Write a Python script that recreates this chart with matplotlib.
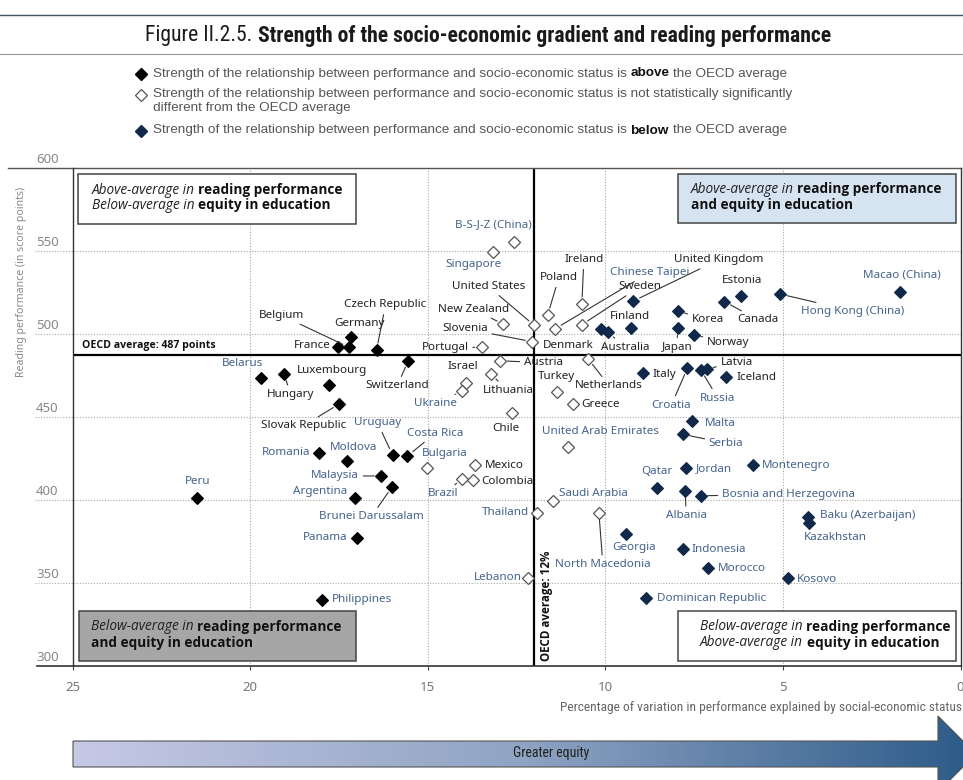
import matplotlib
matplotlib.use("Agg")
import matplotlib.pyplot as plt
import matplotlib.transforms as mtransforms
from matplotlib import font_manager
from matplotlib.patches import Rectangle, Polygon
from matplotlib.colors import LinearSegmentedColormap
import numpy as np

# ---- fonts
entries = font_manager.fontManager.ttflist
names = {f.name for f in entries}


def pick(*cands):
    for c in cands:
        if c in names:
            return c
    return "DejaVu Sans"


def weight_of(f):
    w = f.weight
    if isinstance(w, str):
        w = font_manager.weight_dict.get(w, 400)
    return w


def pick_full(*cands):
    # a family that really has bold and italic faces
    for c in cands:
        fs = [f for f in entries if f.name == c]
        if any(weight_of(f) >= 600 for f in fs) and any(f.style == "italic" for f in fs):
            return c
    return "DejaVu Sans"


NARROW = pick("Liberation Sans Narrow", "Roboto Condensed", "Liberation Sans")
SANS = pick("Noto Sans", "Open Sans", "DejaVu Sans")
RICH = pick_full("Open Sans", "Lato", "Noto Sans", "Roboto", "Liberation Sans")
LEGF = pick_full("Liberation Sans", "Roboto", "Lato", "Open Sans")

# ---- data (x: % of variance explained by ESCS, y: reading score)
countries = [
    "Peru", "Belarus", "Hungary", "Luxembourg", "Slovak Republic", "France", "Belgium",
    "Germany", "Czech Republic", "Switzerland", "Romania", "Moldova", "Uruguay", "Costa Rica",
    "Malaysia", "Brunei Darussalam", "Argentina", "Panama", "Philippines",
    "B-S-J-Z (China)", "Singapore", "United States", "Poland", "Ireland", "Sweden",
    "Chinese Taipei", "New Zealand", "Slovenia", "Portugal", "Austria", "Netherlands",
    "Israel", "Ukraine", "Lithuania", "Turkey", "Greece", "Chile", "United Arab Emirates",
    "Bulgaria", "Brazil", "Mexico", "Colombia", "Thailand", "Saudi Arabia",
    "North Macedonia", "Lebanon",
    "United Kingdom", "Finland", "Denmark", "Australia", "Korea", "Japan", "Norway",
    "Canada", "Estonia", "Hong Kong (China)", "Macao (China)", "Italy", "Croatia",
    "Russia", "Latvia", "Iceland", "Malta", "Serbia", "Jordan", "Montenegro", "Qatar",
    "Albania", "Bosnia and Herzegovina", "Baku (Azerbaijan)", "Kazakhstan", "Georgia",
    "Indonesia", "Morocco", "Kosovo", "Dominican Republic",
]
pct_variance = [
    21.5, 19.7, 19.05, 17.77, 17.49, 17.52, 17.21,
    17.17, 16.44, 15.55, 18.06, 17.28, 15.99, 15.57,
    16.31, 16.0, 17.06, 17.0, 17.98,
    12.56, 13.15, 12.0, 11.62, 10.66, 10.66,
    11.41, 12.87, 12.06, 13.48, 12.96, 10.48,
    13.92, 14.03, 13.22, 11.37, 10.9, 12.64, 11.04,
    15.03, 14.03, 13.67, 13.73, 11.91, 11.48,
    10.18, 12.19,
    9.21, 9.29, 10.13, 9.92, 7.96, 7.96, 7.50,
    6.65, 6.19, 5.08, 1.70, 8.93, 7.69,
    7.31, 7.15, 6.61, 7.56, 7.82, 7.73, 5.83, 8.55,
    7.75, 7.31, 4.28, 4.26, 9.42,
    7.82, 7.10, 4.85, 8.85,
]
reading = [
    401, 473.5, 476, 469, 457.7, 492.2, 491.8,
    498.2, 490.2, 483.6, 428, 423.5, 427, 426.3,
    414.3, 407.8, 400.8, 377.1, 339.6,
    555.2, 549.2, 505, 511.4, 518, 505.4,
    503, 505.7, 495.2, 491.8, 483.7, 484.8,
    470.5, 465.3, 475.5, 464.9, 457.6, 452.4, 431.6,
    419.3, 412.5, 420.7, 411.9, 392.2, 399.2,
    392.2, 352.6,
    519.7, 503.3, 502.8, 500.8, 513.7, 503.3, 499.2,
    519.3, 522.9, 523.9, 525.3, 476.1, 479.2,
    478.1, 478.7, 473.7, 447.6, 439.4, 418.9, 420.9, 406.9,
    405.4, 402.4, 389.4, 386.1, 379.2,
    370.3, 358.7, 352.6, 341,
]
# 0 = above OECD average, 1 = not significantly different, 2 = below
strength = [0] * 19 + [1] * 27 + [2] * 30
partners = {
    "Peru", "Belarus", "Romania", "Moldova", "Uruguay", "Costa Rica", "Malaysia",
    "Brunei Darussalam", "Argentina", "Panama", "Philippines", "B-S-J-Z (China)",
    "Singapore", "Chinese Taipei", "Ukraine", "United Arab Emirates", "Bulgaria", "Brazil",
    "Thailand", "Saudi Arabia", "North Macedonia", "Lebanon", "Hong Kong (China)",
    "Macao (China)", "Croatia", "Russia", "Malta", "Serbia", "Jordan", "Montenegro",
    "Qatar", "Albania", "Bosnia and Herzegovina", "Baku (Azerbaijan)", "Kazakhstan",
    "Georgia", "Indonesia", "Morocco", "Kosovo", "Dominican Republic",
}
oecd_read = 487
oecd_pct = 12
x_ticks = [25, 20, 15, 10, 5, 0]
y_ticks = [600, 550, 500, 450, 400, 350, 300]

# label placement: offset in pixels (dx, dy), alignment, leader line
label_pos = {
    "Peru": (1, 17, "center", False), "Belarus": (-18, 14, "center", False),
    "Hungary": (7, -21, "center", True), "Luxembourg": (3, 15, "center", False),
    "Slovak Republic": (-36, -22, "center", True), "France": (-8, 1, "right", False),
    "Belgium": (-68, 32, "center", True), "Germany": (9, 13, "center", False),
    "Czech Republic": (9, 45, "center", True), "Switzerland": (-11, -25, "center", True),
    "Romania": (-9, 1, "right", False), "Moldova": (7, 13, "center", False),
    "Uruguay": (-15, 32, "center", True), "Costa Rica": (28, 23, "center", True),
    "Malaysia": (-46, 0, "center", True), "Brunei Darussalam": (-21, -30, "center", True),
    "Argentina": (-7, 7, "right", False), "Panama": (-9, 0, "right", False),
    "Philippines": (10, 0, "left", False),
    "B-S-J-Z (China)": (-21, 17, "center", False), "Singapore": (-20, -12, "center", False),
    "United States": (-46, 39, "center", True), "Poland": (11, 37, "center", True),
    "Ireland": (2, 44, "center", True), "Sweden": (58, 38, "center", True),
    "Chinese Taipei": (94, 56, "center", True), "New Zealand": (-30, 15, "center", True),
    "Slovenia": (-67, 13, "center", True), "Portugal": (-13, 0, "right", True),
    "Austria": (43, -2, "center", True), "Netherlands": (21, -27, "center", True),
    "Israel": (-3, 16, "center", False), "Ukraine": (-27, -12, "center", True),
    "Lithuania": (17, -16, "center", True), "Turkey": (0, 15, "center", False),
    "Greece": (8, 0, "left", False), "Chile": (-6, -16, "center", False),
    "United Arab Emirates": (32, 16, "center", False), "Bulgaria": (18, 14, "center", False),
    "Brazil": (-19, -15, "center", True), "Mexico": (10, 0, "left", False),
    "Colombia": (8, -2, "left", False), "Thailand": (-8, 0, "right", False),
    "Saudi Arabia": (6, 8, "left", False), "North Macedonia": (4, -52, "center", True),
    "Lebanon": (-6, 1, "right", False),
    "United Kingdom": (85, 41, "center", True), "Finland": (-1, 12, "center", False),
    "Denmark": (-32, -16, "center", False), "Australia": (17, -15, "center", True),
    "Korea": (30, -9, "center", True), "Japan": (-1, -19, "center", True),
    "Norway": (34, -7, "center", True), "Canada": (34, -18, "center", True),
    "Estonia": (1, 15, "center", False), "Hong Kong (China)": (21, -17, "left", True),
    "Macao (China)": (2, 17, "center", False), "Italy": (9, -1, "left", False),
    "Croatia": (-16, -37, "center", True), "Russia": (17, -28, "center", True),
    "Latvia": (30, 7, "center", True), "Iceland": (11, 0, "left", False),
    "Malta": (13, -3, "left", False), "Serbia": (26, -9, "left", True),
    "Jordan": (10, 0, "left", False), "Montenegro": (8, 0, "left", False),
    "Qatar": (0, 17, "center", False), "Albania": (1, -25, "center", True),
    "Bosnia and Herzegovina": (21, 1, "left", True), "Baku (Azerbaijan)": (12, 2, "left", False),
    "Kazakhstan": (26, -15, "center", False), "Georgia": (8, -13, "center", False),
    "Indonesia": (9, 0, "left", False), "Morocco": (10, 0, "left", False),
    "Kosovo": (9, -1, "left", False), "Dominican Republic": (11, -1, "left", False),
}

NAVY = "#10294a"
BLUE_TXT = "#44638c"
GRID = "#aaaaaa"

fig = plt.figure(figsize=(9.63, 7.8), dpi=100)
ax = fig.add_axes([72.5 / 963, 1 - 665.7 / 780, 888 / 963, 498 / 780])
ax.set_xlim(25, 0)
ax.set_ylim(300, 600)
for s in ax.spines.values():
    s.set_visible(False)
blend = mtransforms.blended_transform_factory(ax.transAxes, ax.transData)

# grid
for v in y_ticks[1:-1]:
    ax.plot([-0.042, 1], [v, v], transform=blend, color=GRID, lw=0.8,
            ls=(0, (1, 1.5)), clip_on=False, zorder=0.5)
for v in x_ticks[1:-1]:
    ax.axvline(v, color=GRID, lw=0.8, ls=(0, (1, 1.5)), zorder=0.5)
for v in y_ticks:
    ax.text(-0.041, v + 5, str(v), transform=blend, ha="left", va="center",
            fontsize=9.5, color="#888888", family=SANS)
ax.plot([-0.0726, 1], [1, 1], transform=ax.transAxes, color="#555555", lw=1, clip_on=False)
ax.plot([-0.04, 1], [0, 0], transform=ax.transAxes, color="#333333", lw=1.2, clip_on=False)
ax.plot([0, 0], [0, 1], transform=ax.transAxes, color="#333333", lw=1, clip_on=False)
ax.plot([1, 1], [0, 1], transform=ax.transAxes, color="#333333", lw=1, clip_on=False)

ax.set_yticks([])
ax.set_xticks(x_ticks)
ax.set_xticklabels([str(t) for t in x_ticks], family=SANS)
ax.tick_params(axis="x", direction="out", length=3, width=0.8, color="#444444",
               labelcolor="#777777", labelsize=9.5, pad=8)

# OECD averages
ax.axhline(oecd_read, color="black", lw=1.6, zorder=1)
ax.axvline(oecd_pct, color="black", lw=1.6, zorder=1)
ax.text(0.0104, oecd_read + 5.8, f"OECD average: {oecd_read} points", transform=blend,
        ha="left", va="center", fontsize=7.6, fontweight="bold", family=RICH, color="#111111")
ax.text(oecd_pct - 0.15, 303, f"OECD average: {oecd_pct}%", rotation=90, ha="left",
        va="bottom", fontsize=8.4, fontweight="bold", family=RICH, color="#111111")

# markers
x = np.array(pct_variance)
y = np.array(reading)
g = np.array(strength)
styles = {
    0: dict(mfc="black", mec="black", mew=0.8),
    1: dict(mfc="white", mec="#555555", mew=0.9),
    2: dict(mfc=NAVY, mec=NAVY, mew=0.8),
}
for k, st in styles.items():
    m = g == k
    ax.plot(x[m], y[m], ls="none", marker="D", ms=6.6, zorder=4, **st)

for name, xv, yv in zip(countries, pct_variance, reading):
    dx, dy, ha, leader = label_pos[name]
    col = BLUE_TXT if name in partners else "#222222"
    props = None
    if leader:
        props = dict(arrowstyle="-", color="#333333", lw=0.8, shrinkA=1, shrinkB=5)
    ax.annotate(name, (xv, yv), xytext=(dx, dy), textcoords="offset pixels", ha=ha,
                va="center", fontsize=8.4, color=col, family=SANS, arrowprops=props,
                zorder=5)

# ---- overlay in pixel coordinates for decorations
ov = fig.add_axes([0, 0, 1, 1], zorder=5)
ov.set_xlim(0, 963)
ov.set_ylim(780, 0)
ov.axis("off")
ov.patch.set_alpha(0)
renderer = fig.canvas.get_renderer()


def rich(x0, y0, parts, size, family, color="#222222", fit=None):
    def draw(sz):
        arts, cx = [], x0
        for i, (s, wt, st, col) in enumerate(parts):
            t = ov.text(cx, y0, s, fontsize=sz, fontweight=wt, fontstyle=st,
                        color=col or color, family=family, ha="left", va="center", zorder=7)
            arts.append(t)
            cx += t.get_window_extent(renderer).width
            if i < len(parts) - 1:
                cx += sz * 0.27 * 100 / 72
        return arts, cx - x0
    arts, w = draw(size)
    if fit:
        for a in arts:
            a.remove()
        size = size * fit / w
        draw(size)
    return size


# title
ov.plot([0, 963], [15, 15], color="#3d5566", lw=1)
ov.plot([0, 963], [54, 54], color="#999999", lw=0.8)
rich(145, 36, [("Figure II.2.5.", "normal", "normal", None),
               ("Strength of the socio-economic gradient and reading performance", "bold", "normal", None)],
     14, NARROW, color="#1a1a1a", fit=688)

# legend
leg_txt = "Strength of the relationship between performance and socio-economic status is"
sz = 9.7
rich(153, 73.5, [(leg_txt, "normal", "normal", None), ("above", "bold", "normal", "#111111"),
                 ("the OECD average", "normal", "normal", None)], sz, LEGF, color="#555555")
rich(153, 94.5, [(leg_txt + " not statistically significantly", "normal", "normal", None)],
     sz, LEGF, color="#555555")
rich(153, 108.5, [("different from the OECD average", "normal", "normal", None)],
     sz, LEGF, color="#555555")
rich(153, 130.5, [(leg_txt, "normal", "normal", None), ("below", "bold", "normal", "#111111"),
                  ("the OECD average", "normal", "normal", None)], sz, LEGF, color="#555555")
ov.plot([141], [73.5], marker="D", ms=6, color="black", ls="none")
ov.plot([141], [94.5], marker="D", ms=6, mfc="white", mec="#555555", mew=0.9, ls="none")
ov.plot([141], [130.5], marker="D", ms=6, color=NAVY, ls="none")

# quadrant boxes
boxes = [
    ((78.3, 174), "white", [("Above-average in", "reading performance"), ("Below-average in", "equity in education")], 91.7),
    ((678.3, 173.5), "#d6e4f1", [("Above-average in", "reading performance"), ("", "and equity in education")], 690.7),
    ((78.6, 611), "#a6a6a6", [("Below-average in", "reading performance"), ("", "and equity in education")], 91),
    ((678, 611), "white", [("Below-average in", "reading performance"), ("Above-average in", "equity in education")], 700),
]
qsize = None
for (bx, by), fc, lines, tx in boxes:
    ov.add_patch(Rectangle((bx, by), 277.7, 49.7, facecolor=fc, edgecolor="#444444", lw=1.1, zorder=6))
    for j, (it, bd) in enumerate(lines):
        parts = ([(it, "normal", "italic", None)] if it else []) + [(bd, "bold", "normal", "#111111")]
        yy = by + 16 + j * 15.5
        if qsize is None:
            qsize = rich(tx, yy, parts, 9.5, RICH, color="#222222", fit=251)
        else:
            rich(tx, yy, parts, qsize, RICH, color="#222222")

# axis titles
fig.text(22 / 963, 1 - 282 / 780, "Reading performance (in score points)", rotation=90,
         ha="center", va="center", fontsize=7.6, color="#888888", family=SANS)
fig.text(0.999, 1 - 708 / 780, "Percentage of variation in performance explained by social-economic status",
         ha="right", va="center", fontsize=9.6, color="#666666", family=NARROW)

# greater equity arrow
arrow = Polygon([(73, 741), (938, 741), (938, 716), (976, 754), (938, 792), (938, 767), (73, 767)],
                closed=True, facecolor="none", edgecolor="#555555", lw=0.8, zorder=3)
ov.add_patch(arrow)
cmap = LinearSegmentedColormap.from_list("eq", ["#c6c9e5", "#8fa3c3", "#2b5a88"])
im = ov.imshow(np.linspace(0, 1, 256)[None, :], extent=[73, 976, 792, 716], cmap=cmap,
               aspect="auto", zorder=2)
im.set_clip_path(arrow)
ov.set_xlim(0, 963)
ov.set_ylim(780, 0)
ov.text(551, 753, "Greater equity", ha="center", va="center", fontsize=10,
        color="#222222", family=NARROW, zorder=4)

fig.savefig("out.png", dpi=100)
